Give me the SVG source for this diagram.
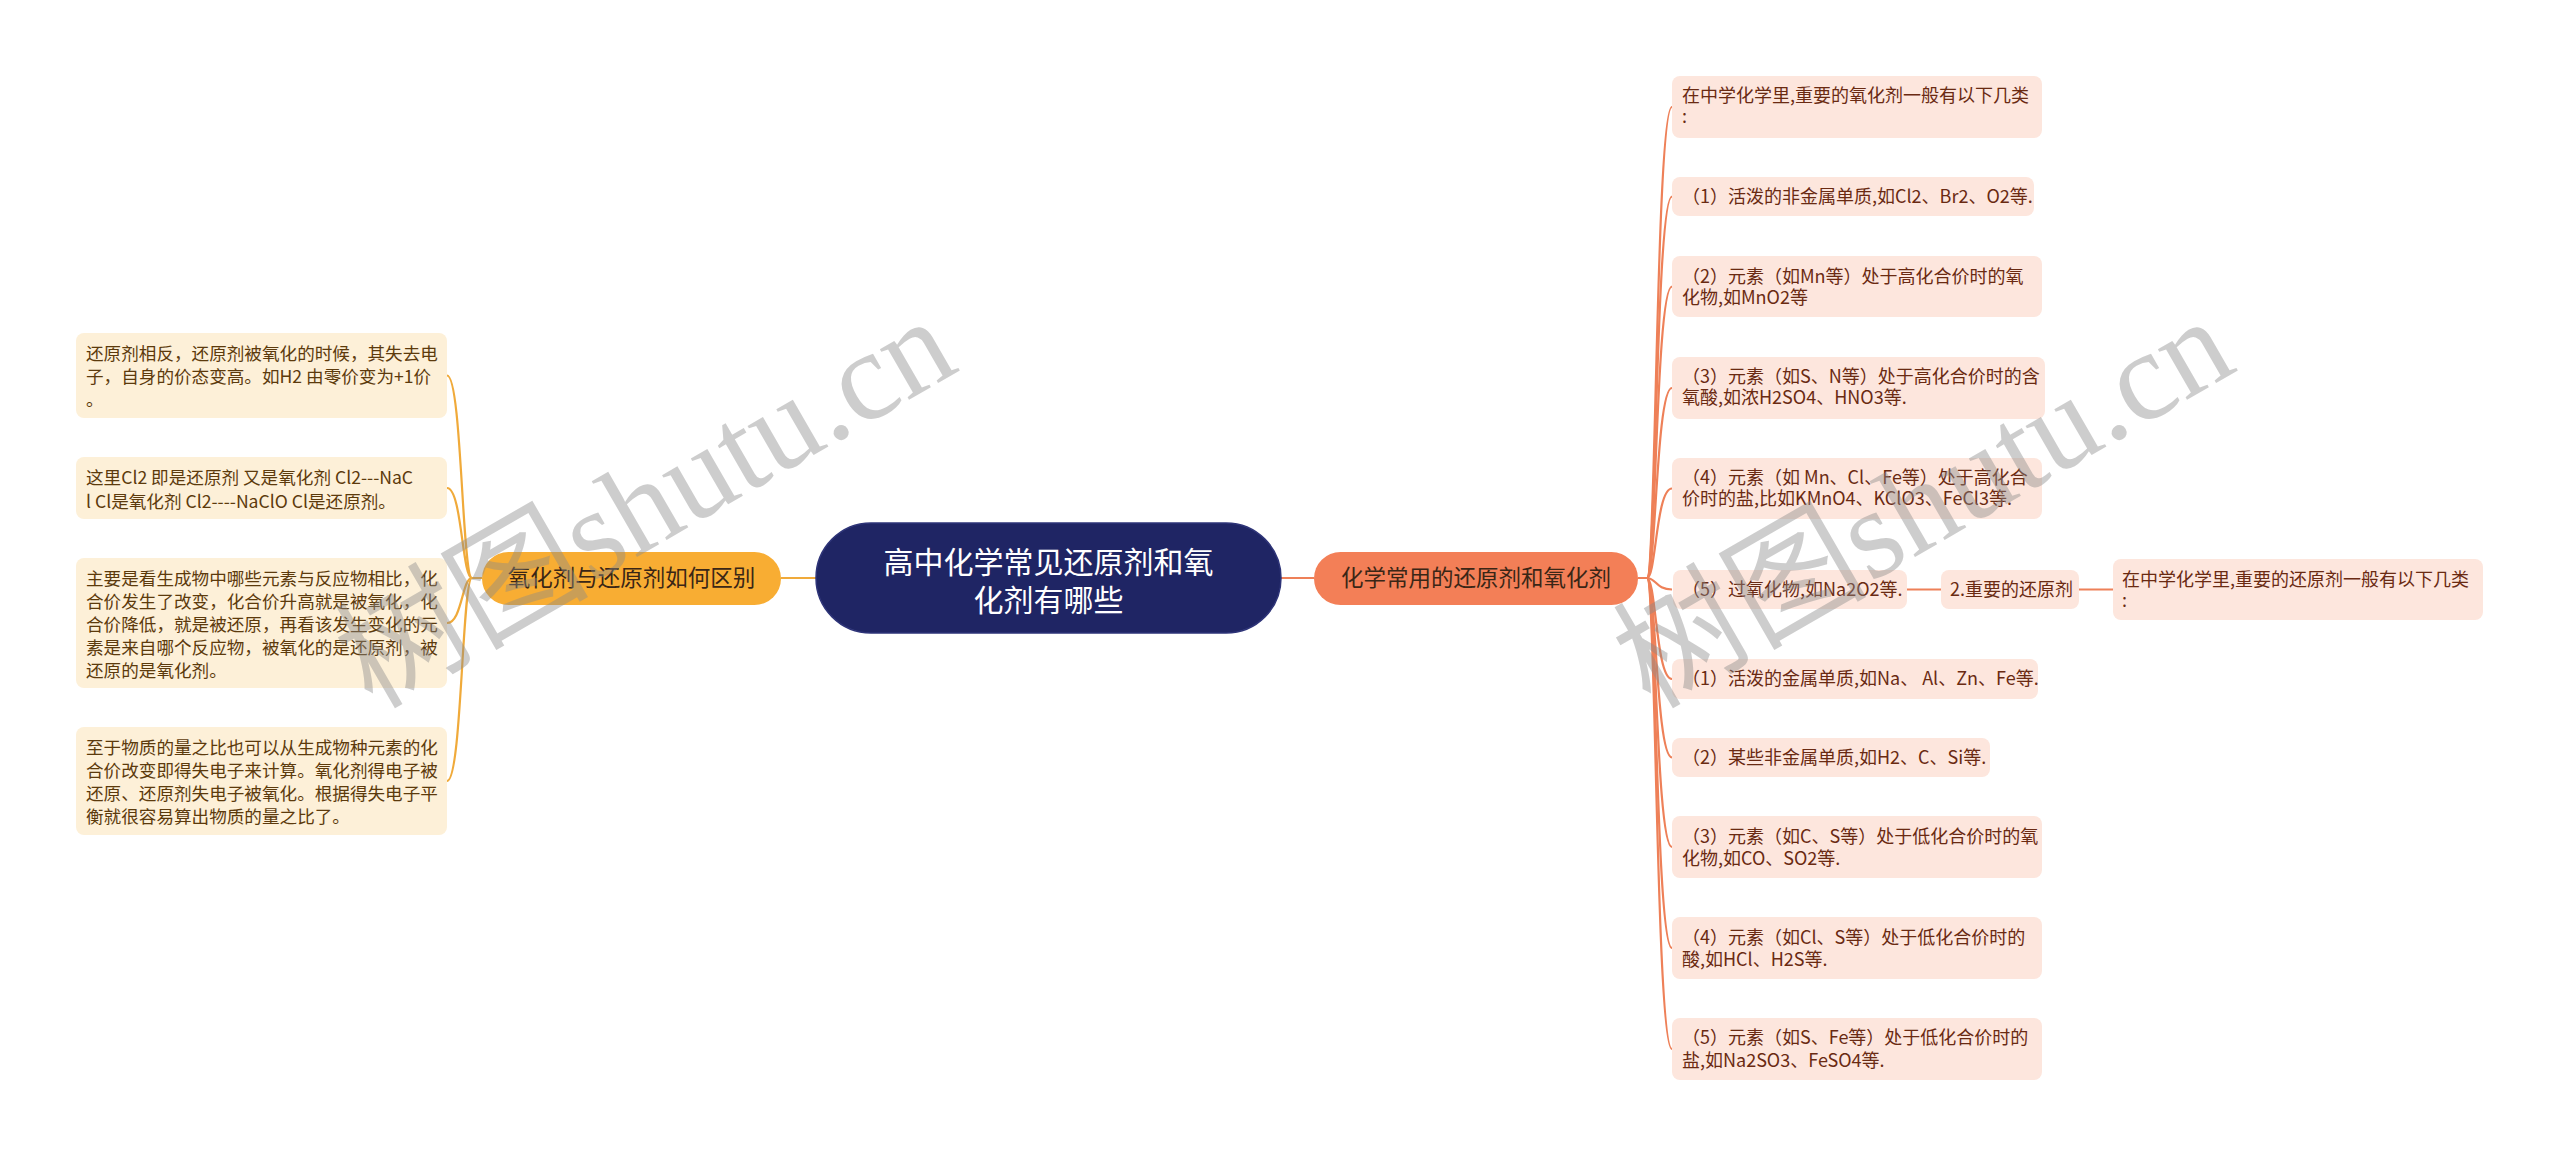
<svg xmlns="http://www.w3.org/2000/svg" width="2560" height="1157" viewBox="0 0 2560 1157">
<style>
text{font-family:"Noto Sans CJK SC","Noto Sans",sans-serif;}
.rbox{fill:#fde6dd;}
.lbox{fill:#fdf0d8;}
.rt{font-size:18px;fill:#6a2a12;}
.lt{font-size:17.6px;fill:#5c3a0c;}
.rc{fill:none;stroke:#ee8058;stroke-width:2.2;}
.lc{fill:none;stroke:#f0aa3a;stroke-width:2.2;}
.bt{font-size:22.5px;fill:#3a2616;text-anchor:middle;}
.wm{font-family:"Liberation Serif","Noto Sans CJK SC",serif;font-size:127px;fill:#8a8a8a;opacity:0.42;}
</style>
<rect width="2560" height="1157" fill="#ffffff"/>
<g id="connectors">
<path class="lc" d="M816 578 L781 578" stroke-width="3"/>
<path class="rc" d="M1281 578 L1314 578" stroke-width="3"/>
<path class="lc" d="M482 578 L472 578 C462 578 462 375.5 447 375.5"/>
<path class="lc" d="M482 578 L472 578 C462 578 462 488 447 488"/>
<path class="lc" d="M482 578 L472 578 C462 578 462 623 447 623"/>
<path class="lc" d="M482 578 L472 578 C462 578 462 781 447 781"/>
<path class="rc" d="M1638 578 L1647 578 C1656 578 1656 107 1672 107"/>
<path class="rc" d="M1638 578 L1647 578 C1656 578 1656 196.5 1672 196.5"/>
<path class="rc" d="M1638 578 L1647 578 C1656 578 1656 286.5 1672 286.5"/>
<path class="rc" d="M1638 578 L1647 578 C1656 578 1656 388 1672 388"/>
<path class="rc" d="M1638 578 L1647 578 C1656 578 1656 488.5 1672 488.5"/>
<path class="rc" d="M1638 578 L1647 578 C1656 578 1656 589.5 1672 589.5"/>
<path class="rc" d="M1638 578 L1647 578 C1656 578 1656 679 1672 679"/>
<path class="rc" d="M1638 578 L1647 578 C1656 578 1656 757.5 1672 757.5"/>
<path class="rc" d="M1638 578 L1647 578 C1656 578 1656 847 1672 847"/>
<path class="rc" d="M1638 578 L1647 578 C1656 578 1656 948 1672 948"/>
<path class="rc" d="M1638 578 L1647 578 C1656 578 1656 1049 1672 1049"/>
<path class="rc" d="M1907 589.5 L1941 589.5" stroke-width="3"/>
<path class="rc" d="M2079 589.5 L2113 589.5" stroke-width="3"/>
</g>
<g id="root">
<rect x="816" y="523" width="465" height="110" rx="55" fill="#1f2564" stroke="#2e3478" stroke-width="1.5"/>
<text x="1048.5" y="572.5" font-size="30" fill="#ffffff" text-anchor="middle">高中化学常见还原剂和氧</text>
<text x="1048.5" y="610.5" font-size="30" fill="#ffffff" text-anchor="middle">化剂有哪些</text>
</g>
<g id="branch-left">
<rect x="482" y="552" width="299" height="53" rx="26.5" fill="#f8ad33"/>
<text class="bt" x="631.5" y="586">氧化剂与还原剂如何区别</text>
</g>
<g id="branch-right">
<rect x="1314" y="552" width="324" height="53" rx="26.5" fill="#f37f57"/>
<text class="bt" x="1476" y="586">化学常用的还原剂和氧化剂</text>
</g>
<g id="l1">
<rect class="lbox" x="76" y="333" width="371" height="85" rx="8"/>
<text class="lt" x="86" y="360">还原剂相反，还原剂被氧化的时候，其失去电</text>
<text class="lt" x="86" y="383">子，自身的价态变高。如H2 由零价变为+1价</text>
<text class="lt" x="86" y="406">。</text>
</g>
<g id="l2">
<rect class="lbox" x="76" y="457" width="371" height="62" rx="8"/>
<text class="lt" x="86" y="484">这里Cl2 即是还原剂 又是氧化剂 Cl2---NaC</text>
<text class="lt" x="86" y="508">l Cl是氧化剂 Cl2----NaClO Cl是还原剂。</text>
</g>
<g id="l3">
<rect class="lbox" x="76" y="558" width="371" height="130" rx="8"/>
<text class="lt" x="86" y="585">主要是看生成物中哪些元素与反应物相比，化</text>
<text class="lt" x="86" y="608">合价发生了改变，化合价升高就是被氧化，化</text>
<text class="lt" x="86" y="631">合价降低，就是被还原，再看该发生变化的元</text>
<text class="lt" x="86" y="654">素是来自哪个反应物，被氧化的是还原剂，被</text>
<text class="lt" x="86" y="677">还原的是氧化剂。</text>
</g>
<g id="l4">
<rect class="lbox" x="76" y="727" width="371" height="108" rx="8"/>
<text class="lt" x="86" y="754">至于物质的量之比也可以从生成物种元素的化</text>
<text class="lt" x="86" y="777">合价改变即得失电子来计算。氧化剂得电子被</text>
<text class="lt" x="86" y="800">还原、还原剂失电子被氧化。根据得失电子平</text>
<text class="lt" x="86" y="823">衡就很容易算出物质的量之比了。</text>
</g>
<g id="oA">
<rect class="rbox" x="1672" y="76" width="370" height="62" rx="8"/>
<text class="rt" x="1682" y="102">在中学化学里,重要的氧化剂一般有以下几类</text>
<text class="rt" x="1682" y="123">:</text>
</g>
<g id="o1">
<rect class="rbox" x="1672" y="177" width="362" height="39" rx="8"/>
<text class="rt" x="1682" y="203">（1）活泼的非金属单质,如Cl2、Br2、O2等.</text>
</g>
<g id="o2">
<rect class="rbox" x="1672" y="256" width="370" height="61" rx="8"/>
<text class="rt" x="1682" y="283">（2）元素（如Mn等）处于高化合价时的氧</text>
<text class="rt" x="1682" y="304">化物,如MnO2等</text>
</g>
<g id="o3">
<rect class="rbox" x="1672" y="357" width="373" height="62" rx="8"/>
<text class="rt" x="1682" y="383">（3）元素（如S、N等）处于高化合价时的含</text>
<text class="rt" x="1682" y="404">氧酸,如浓H2SO4、HNO3等.</text>
</g>
<g id="o4">
<rect class="rbox" x="1672" y="458" width="370" height="61" rx="8"/>
<text class="rt" x="1682" y="484">（4）元素（如 Mn、Cl、Fe等）处于高化合</text>
<text class="rt" x="1682" y="505">价时的盐,比如KMnO4、KClO3、FeCl3等.</text>
</g>
<g id="o5">
<rect class="rbox" x="1673" y="570" width="234" height="39" rx="8"/>
<text class="rt" x="1682" y="596">（5）过氧化物,如Na2O2等.</text>
</g>
<g id="red-title">
<rect class="rbox" x="1941" y="570" width="138" height="39" rx="8"/>
<text class="rt" x="1950" y="596">2.重要的还原剂</text>
</g>
<g id="rA">
<rect class="rbox" x="2113" y="559" width="370" height="61" rx="8"/>
<text class="rt" x="2122" y="586">在中学化学里,重要的还原剂一般有以下几类</text>
<text class="rt" x="2122" y="607">:</text>
</g>
<g id="r1">
<rect class="rbox" x="1672" y="659" width="366" height="40" rx="8"/>
<text class="rt" x="1682" y="685">（1）活泼的金属单质,如Na、 Al、Zn、Fe等.</text>
</g>
<g id="r2">
<rect class="rbox" x="1672" y="738" width="318" height="39" rx="8"/>
<text class="rt" x="1682" y="764">（2）某些非金属单质,如H2、C、Si等.</text>
</g>
<g id="r3">
<rect class="rbox" x="1672" y="816" width="370" height="62" rx="8"/>
<text class="rt" x="1682" y="843">（3）元素（如C、S等）处于低化合价时的氧</text>
<text class="rt" x="1682" y="865">化物,如CO、SO2等.</text>
</g>
<g id="r4">
<rect class="rbox" x="1672" y="917" width="370" height="62" rx="8"/>
<text class="rt" x="1682" y="944">（4）元素（如Cl、S等）处于低化合价时的</text>
<text class="rt" x="1682" y="966">酸,如HCl、H2S等.</text>
</g>
<g id="r5">
<rect class="rbox" x="1672" y="1018" width="370" height="62" rx="8"/>
<text class="rt" x="1682" y="1044">（5）元素（如S、Fe等）处于低化合价时的</text>
<text class="rt" x="1682" y="1067">盐,如Na2SO3、FeSO4等.</text>
</g>
<g id="watermarks">
<text class="wm" x="372" y="710" transform="rotate(-30 372 710)">树图shutu.cn</text>
<text class="wm" x="1650" y="710" transform="rotate(-30 1650 710)">树图shutu.cn</text>
</g>
</svg>
